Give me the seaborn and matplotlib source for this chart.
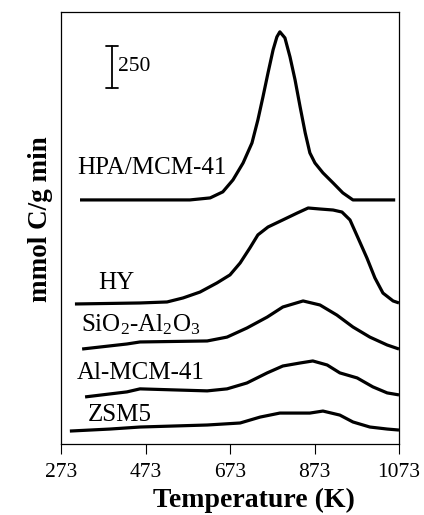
import numpy as np
import pandas as pd
import matplotlib
matplotlib.use("Agg")
import matplotlib.pyplot as plt
import seaborn as sns

# ---- data (temperature in K, signal in mmol C/g min, curves stacked with offsets)
catalysts = ["HPA/MCM-41", "HY", "SiO2-Al2O3", "Al-MCM-41", "ZSM5"]
label_texts = ["HPA/MCM-41", "HY", r"SiO$_2$-Al$_2$O$_3$", "Al-MCM-41", "ZSM5"]
offsets = [1452, 833, 565, 280, 77]

hpa_T = [318, 555, 578, 626, 656, 680, 704, 725, 739, 751, 763, 775, 784, 791, 803, 815,
         827, 839, 851, 862, 874, 893, 917, 940, 964, 1064]
hpa_y = [0, 0, 0, 12, 48, 119, 220, 339, 476, 613, 756, 893, 970, 1000, 964, 851,
         714, 553, 399, 280, 220, 161, 101, 42, 0, 0]

hy_T = [306, 460, 524, 562, 602, 642, 673, 697, 720, 739, 763, 798, 832, 858, 886, 917,
        938, 957, 976, 997, 1016, 1035, 1059, 1073]
hy_y = [0, 6, 12, 36, 71, 125, 173, 244, 333, 411, 458, 500, 541, 571, 565, 559,
        547, 500, 393, 274, 155, 65, 18, 6]

sa_T = [323, 429, 460, 619, 666, 713, 761, 798, 846, 886, 926, 964, 1004, 1045, 1073]
sa_y = [0, 30, 42, 48, 71, 125, 190, 250, 286, 262, 202, 131, 71, 24, 0]

al_T = [330, 429, 460, 538, 619, 666, 713, 761, 798, 839, 869, 903, 933, 974, 1011, 1045, 1073]
al_y = [0, 30, 48, 42, 36, 48, 83, 143, 184, 202, 214, 190, 143, 113, 60, 24, 12]

zsm_T = [294, 389, 460, 619, 697, 744, 791, 832, 862, 893, 933, 964, 1004, 1045, 1073]
zsm_y = [0, 12, 24, 36, 48, 83, 107, 107, 107, 119, 95, 54, 24, 12, 6]

x_ticks = [273, 473, 673, 873, 1073]
scale_bar = 250

series_T = [hpa_T, hy_T, sa_T, al_T, zsm_T]
series_y = [hpa_y, hy_y, sa_y, al_y, zsm_y]

rows = []
for name, off, T, y in zip(catalysts, offsets, series_T, series_y):
    for t, v in zip(T, y):
        rows.append({"catalyst": name, "T": t, "signal": v + off})
df = pd.DataFrame(rows)

# ---- style
sns.set_theme(style="ticks")
plt.rcParams["font.family"] = ["Liberation Serif", "DejaVu Serif"]
plt.rcParams["mathtext.fontset"] = "custom"
plt.rcParams["mathtext.rm"] = "Liberation Serif"
plt.rcParams["mathtext.it"] = "Liberation Serif:italic"
plt.rcParams["mathtext.bf"] = "Liberation Serif:bold"
for k in ["text.color", "axes.labelcolor", "xtick.color", "ytick.color",
          "xtick.labelcolor", "ytick.labelcolor", "axes.edgecolor"]:
    plt.rcParams[k] = "black"

fig = plt.figure(figsize=(4.24, 5.15), dpi=100)
ax = fig.add_axes([61 / 424, 1 - 444 / 515, 338 / 424, 432 / 515])

sns.lineplot(data=df, x="T", y="signal", hue="catalyst", units="catalyst",
             estimator=None, sort=False, palette=["black"] * 5, linewidth=2.3,
             legend=False, ax=ax, solid_joinstyle="round", solid_capstyle="butt")

ax.set_xlim(273, 1073)
ax.set_ylim(0, 2570)
ax.set_xticks(x_ticks)
ax.set_xticklabels([str(t) for t in x_ticks], fontsize=15.5)
ax.set_yticks([])
ax.tick_params(axis="x", direction="out", length=7, width=0.8, pad=7, color="black")
for s in ax.spines.values():
    s.set_visible(True)
    s.set_linewidth(0.9)
    s.set_color("black")
ax.set_xlabel("")
ax.set_ylabel("")

# curve labels
label_pos = [(311, 1640), (361, 960), (320, 710), (311, 425), (336, 172)]
for txt, (x, y) in zip(label_texts, label_pos):
    ax.text(x, y, txt, fontsize=18, ha="left", va="center", color="black")

# scale bar
bx, y0 = 394, 2118
ax.plot([bx, bx], [y0, y0 + scale_bar], color="black", lw=1.3)
ax.plot([bx - 15, bx + 15], [y0, y0], color="black", lw=1.3)
ax.plot([bx - 15, bx + 15], [y0 + scale_bar, y0 + scale_bar], color="black", lw=1.3)
ax.text(bx + 13, y0 + scale_bar / 2, str(scale_bar), fontsize=15.5, ha="left", va="center")

fig.text(254 / 424, 1 - 500 / 515, "Temperature (K)", fontsize=20, fontweight="bold",
         ha="center", va="center")
fig.text(41 / 424, 1 - 219 / 515, "mmol C/g min", fontsize=19.5, fontweight="bold",
         ha="center", va="center", rotation=90)

fig.savefig("out.png", dpi=100)
